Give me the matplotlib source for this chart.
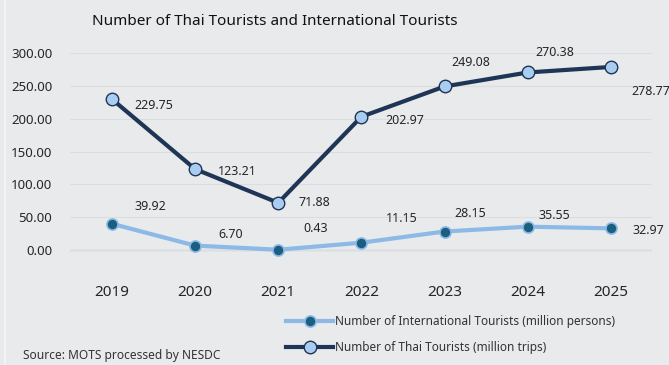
import matplotlib.pyplot as plt
from matplotlib.lines import Line2D

years = ["2019", "2020", "2021", "2022", "2023", "2024", "2025"]
thai_trips = [229.75, 123.21, 71.88, 202.97, 249.08, 270.38, 278.77]
intl_persons = [39.92, 6.70, 0.43, 11.15, 28.15, 35.55, 32.97]

# label offsets in pixels from each point
thai_offsets = [(42, -6), (42, -2), (36, 0), (43, -4), (26, 24), (27, 20), (40, -25)]
intl_offsets = [(38, 17), (36, 11), (37, 21), (40, 24), (26, 18), (27, 11), (38, -2)]

BG = "#e9eaec"
NAVY = "#1f3556"
LIGHT = "#a9cdf0"
SKY = "#8db9e6"
TEAL = "#1a5f80"


def main() -> None:
    plt.rcParams["font.family"] = ["Noto Sans", "DejaVu Sans"]

    fig = plt.figure(figsize=(6.69, 3.65), dpi=100, facecolor=BG)
    ax = fig.add_axes([0.1052, 0.2877, 0.870, 0.589])
    ax.set_facecolor(BG)

    # thin light rule down the left edge
    fig.add_artist(Line2D([0.008, 0.008], [0, 1], color="#f4f5f6", lw=1.2))

    x = list(range(len(years)))

    ax.plot(x, intl_persons, color=SKY, lw=3, marker="o", markersize=8,
            markerfacecolor=TEAL, markeredgecolor=SKY, markeredgewidth=1.2,
            label="Number of International Tourists (million persons)", zorder=3)
    ax.plot(x, thai_trips, color=NAVY, lw=3, marker="o", markersize=9,
            markerfacecolor=LIGHT, markeredgecolor=NAVY, markeredgewidth=1,
            label="Number of Thai Tourists (million trips)", zorder=3)

    for xi, v, off in zip(x, thai_trips, thai_offsets):
        ax.annotate(f"{v:.2f}", (xi, v), xytext=off, textcoords="offset pixels",
                    ha="center", va="center", fontsize=9, color="#262626",
                    annotation_clip=False)
    for xi, v, off in zip(x, intl_persons, intl_offsets):
        ax.annotate(f"{v:.2f}", (xi, v), xytext=off, textcoords="offset pixels",
                    ha="center", va="center", fontsize=9, color="#262626",
                    annotation_clip=False)

    ax.set_xlim(-0.5, 6.5)
    ax.set_ylim(-15.2, 312.2)
    ax.set_yticks([0, 50, 100, 150, 200, 250, 300])
    ax.set_yticklabels([f"{t:.2f}" for t in ax.get_yticks()], fontsize=9.5, color="#262626")
    ax.set_xticks(x)
    ax.set_xticklabels(years, fontsize=11, color="#262626")
    ax.tick_params(length=0)
    ax.tick_params(axis="x", pad=18)
    ax.tick_params(axis="y", pad=13)
    ax.grid(axis="y", color="#dcdde0", lw=0.8)
    ax.axhline(0, color="#cfd0d3", lw=1, zorder=1)
    for s in ax.spines.values():
        s.set_visible(False)

    fig.text(0.411, 0.94, "Number of Thai Tourists and International Tourists",
             ha="center", va="center", fontsize=11, color="#111111")
    fig.text(0.034, 0.027, "Source: MOTS processed by NESDC",
             ha="left", va="center", fontsize=8.6, color="#333333")

    fig.legend(loc="upper left", bbox_to_anchor=(0.412, 0.165), frameon=False,
               fontsize=8.5, handlelength=4.0, handletextpad=0.1, labelspacing=1.1,
               labelcolor="#333333")

    plt.savefig("out.png", dpi=100, facecolor=BG)


if __name__ == "__main__":
    main()
